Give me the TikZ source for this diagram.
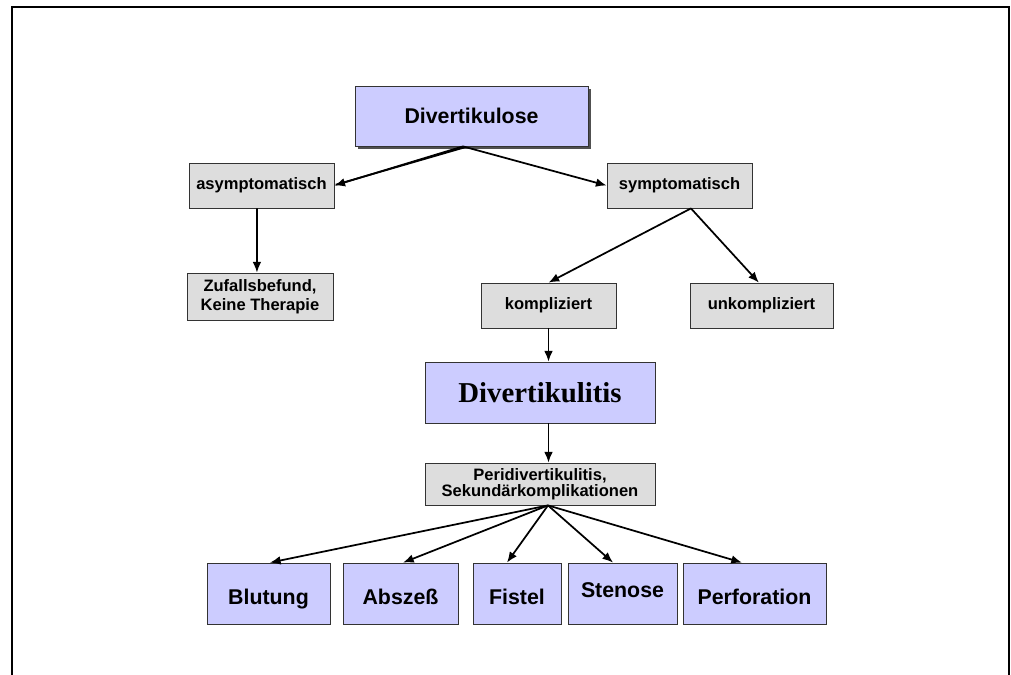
\documentclass[tikz,border=0pt]{standalone}
\usepackage{fontspec}
\setmainfont{Liberation Sans}
\newfontfamily\serifbold{Liberation Serif}
\usetikzlibrary{arrows.meta,shadows}
\definecolor{flila}{HTML}{CCCCFF}
\definecolor{fgrau}{HTML}{DDDDDD}
\definecolor{fshade}{HTML}{505050}

\begin{document}
\begin{tikzpicture}[x=0.75pt, y=-0.75pt,
  box/.style={draw=black!80, line width=0.6pt, inner sep=0pt, align=center,
    drop shadow={shadow xshift=1.1pt, shadow yshift=-1.1pt, fill=fshade, opacity=1}},
  greybox/.style={box, fill=fgrau, font=\fontsize{12.4}{13.5}\selectfont\bfseries},
  lilabox/.style={box, fill=flila, minimum height=45.75pt, font=\fontsize{16}{18}\selectfont\bfseries},
  endbox/.style={lilabox, text height=20.5pt, text depth=3.5pt},
  link/.style={line width=1.3pt, -{Latex[length=8pt,width=6.5pt]}}]
\useasboundingbox (0,0) rectangle (1011,675);
% ---------------- frame ----------------
\draw[line width=1.5pt] (12,675) -- (12,7) -- (1009,7) -- (1009,675);
% ---------------- top levels ----------------
\node[lilabox, minimum width=174.75pt, minimum height=45pt,
  drop shadow={shadow xshift=2pt, shadow yshift=-2pt, fill=fshade, opacity=1}]
  (kulose) at (471.5,116) {Divertikulose};
\node[greybox, minimum width=108.75pt, minimum height=33.75pt] (asym) at (261.5,185.5) {asymptomatisch};
\node[greybox, minimum width=108.75pt, minimum height=33.75pt] (sym) at (679.5,185.5) {symptomatisch};
\node[greybox, minimum width=109.5pt, minimum height=35.25pt, font=\fontsize{12.4}{14.3}\selectfont\bfseries]
  (zufall) at (260,296.5) {Zufallsbefund,\\Keine Therapie};
\node[greybox, minimum width=101.25pt, minimum height=33.75pt] (kompl) at (548.5,305.5) {kompliziert};
\node[greybox, minimum width=107.25pt, minimum height=33.75pt] (unkompl) at (761.5,305.5) {unkompliziert};
\node[lilabox, minimum width=172.5pt, font=\fontsize{21.6}{24}\selectfont\serifbold\bfseries]
  (kulitis) at (540,392.5) {Divertikulitis};
\node[greybox, minimum width=172.5pt, minimum height=31.5pt, font=\fontsize{12.4}{12}\selectfont\bfseries]
  (peri) at (540,484) {Peridivertikulitis,\\Sekundärkomplikationen};
% ---------------- complications ----------------
\node[endbox, minimum width=92.25pt] (blut) at (268.5,593.5) {Blutung};
\node[endbox, minimum width=86.25pt] (absz) at (400.5,593.5) {Abszeß};
\node[endbox, minimum width=66pt] (fistel) at (517,593.5) {Fistel};
\node[endbox, minimum width=81.75pt, text height=19pt, text depth=12.5pt] (stenose) at (622.5,593.5) {Stenose};
\node[endbox, minimum width=107.25pt] (perf) at (754.5,593.5) {Perforation};
% ---------------- connectors ----------------
\draw[line width=1.3pt] ([xshift=-4pt,yshift=-0.4pt]kulose.south) -- ([xshift=1pt,yshift=0.6pt]asym.east);
\draw[link] ([xshift=-6.4pt]kulose.south) -- (asym.east);
\draw[link] ([xshift=-6.4pt]kulose.south) -- (sym.west);
\draw[link] ([xshift=-3.4pt]asym.south) -- ([xshift=-2.3pt]zufall.north);
\draw[link] ([xshift=8.6pt]sym.south) -- (kompl.north);
\draw[link] ([xshift=8.6pt]sym.south) -- ([xshift=-2pt]unkompl.north);
\draw[link] (kompl.south) -- (kompl.south |- kulitis.north);
\draw[link] (kulitis.south -| kompl.south) -- (peri.north -| kompl.south);
\coordinate (hub) at ([xshift=6pt]peri.south);
\foreach \t/\dx in {blut/1.1, absz/1.9, fistel/-7.5, stenose/-7.1, perf/-9.4}{
  \draw[link] (hub) -- ([xshift=\dx pt]\t.north);}
\end{tikzpicture}
\end{document}
